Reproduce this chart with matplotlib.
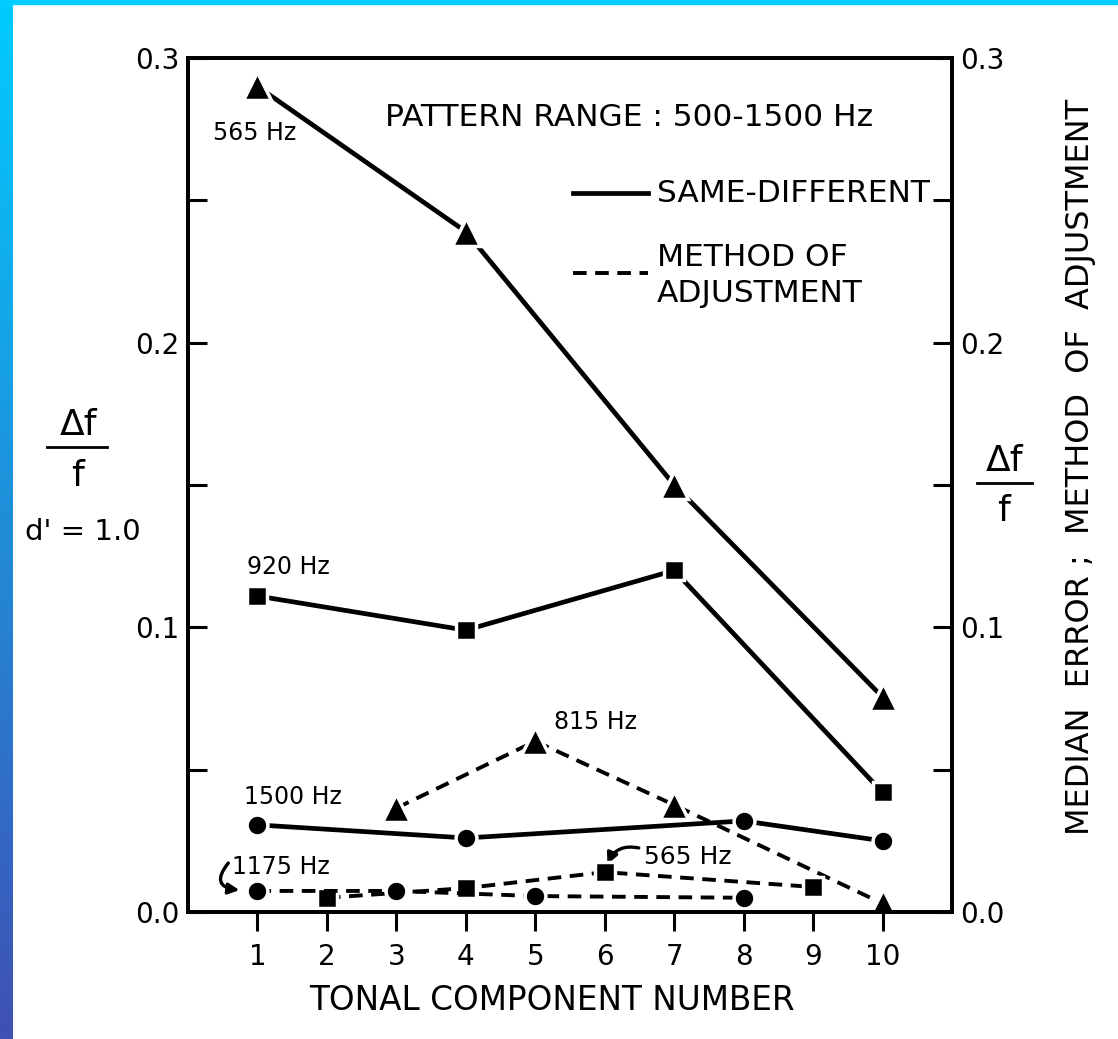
import numpy as np
import matplotlib
matplotlib.use("Agg")
from matplotlib import pyplot as plt
from matplotlib.lines import Line2D
from matplotlib.patches import FancyArrowPatch

# same-different (solid)
sd_565_x = [1, 4, 7, 10]
sd_565_y = [0.290, 0.239, 0.150, 0.0755]
sd_920_x = [1, 4, 7, 10]
sd_920_y = [0.111, 0.099, 0.120, 0.042]
sd_1500_x = [1, 4, 8, 10]
sd_1500_y = [0.0306, 0.026, 0.032, 0.025]

# method of adjustment (dashed)
ma_815_x = [3, 5, 7, 10]
ma_815_y = [0.0365, 0.060, 0.0376, 0.003]
ma_565_x = [2, 4, 6, 9]
ma_565_y = [0.005, 0.0084, 0.014, 0.0088]
ma_1175_x = [1, 3, 5, 8]
ma_1175_y = [0.0074, 0.0074, 0.0056, 0.005]

x_ticks = [1, 2, 3, 4, 5, 6, 7, 8, 9, 10]
y_ticks = [0.0, 0.05, 0.1, 0.15, 0.2, 0.25, 0.3]
y_labels = ['0.0', '', '0.1', '', '0.2', '', '0.3']

W, H = 1118, 1039
fig = plt.figure(figsize=(W / 100, H / 100), dpi=100)
plt.rcParams['font.family'] = 'DejaVu Sans'

def fx(px):
    return px / W

def fy(py):
    return 1 - py / H

# blue border strip on the left and top
grad = np.linspace(0, 1, 256).reshape(-1, 1)
cmap = matplotlib.colors.LinearSegmentedColormap.from_list('b', ['#00ccff', '#4050b4'])
bax = fig.add_axes([0, 0, 13 / W, 1])
bax.imshow(grad, aspect='auto', cmap=cmap)
bax.axis('off')
fig.patches.append(matplotlib.patches.Rectangle((0, 1 - 4 / H), 1, 4 / H, transform=fig.transFigure, color='#00ccff'))

ax = fig.add_axes([fx(188), fy(912), fx(952) - fx(188), fy(58) - fy(912)])
ax.set_xlim(0, 11)
ax.set_ylim(0, 0.3)

solid = dict(color='black', lw=3.4, linestyle='-', markeredgecolor='white', markeredgewidth=2.5)
dashed = dict(color='black', lw=2.8, linestyle=(0, (3.5, 2.2)), markeredgecolor='white', markeredgewidth=2.5)

ax.plot(sd_565_x, sd_565_y, marker='^', ms=20, **solid)
ax.plot(sd_920_x, sd_920_y, marker='s', ms=14, **solid)
ax.plot(sd_1500_x, sd_1500_y, marker='o', ms=15, **solid)
ax.plot(ma_815_x, ma_815_y, marker='^', ms=20, **dashed)
ax.plot(ma_565_x, ma_565_y, marker='s', ms=14, **dashed)
ax.plot(ma_1175_x, ma_1175_y, marker='o', ms=15, **dashed)

for s in ax.spines.values():
    s.set_linewidth(2.8)

ax.set_xticks(x_ticks)
ax.set_xticklabels([str(v) for v in x_ticks], fontsize=20)
ax.tick_params(axis='x', direction='out', length=14, width=2.2, pad=8)
ax.set_yticks(y_ticks)
ax.set_yticklabels(y_labels, fontsize=20)
ax.tick_params(axis='y', direction='in', length=14, width=2.2, pad=6)

ax2 = ax.twinx()
ax2.set_ylim(0, 0.3)
ax2.set_yticks(y_ticks)
ax2.set_yticklabels(y_labels, fontsize=20)
ax2.tick_params(axis='y', direction='in', length=14, width=2.2, pad=6)
for s in ax2.spines.values():
    s.set_linewidth(2.8)

# point labels
lab = dict(fontsize=17, ha='left', va='center')
ax.text(0.353, 0.2736, '565 Hz', **lab)
ax.text(0.856, 0.1212, '920 Hz', **lab)
ax.text(0.813, 0.0404, '1500 Hz', **lab)
ax.text(5.267, 0.0667, '815 Hz', **lab)
ax.text(0.64, 0.0158, '1175 Hz', **lab)
ax.text(6.56, 0.0193, '565 Hz', fontsize=18, ha='left', va='center')

# curved pointers
arr = dict(arrowstyle='-|>', lw=2.4, color='black', mutation_scale=16, shrinkA=0, shrinkB=0)
ax.add_patch(FancyArrowPatch((0.58, 0.0172), (0.74, 0.0077), connectionstyle='arc3,rad=0.9', **arr))
ax.add_patch(FancyArrowPatch((6.49, 0.0225), (6.04, 0.0168), connectionstyle='arc3,rad=0.4', **arr))

# header and legend
fig.text(fx(385), fy(118), 'PATTERN RANGE : 500-1500 Hz', fontsize=22.5, ha='left', va='center')
fig.add_artist(Line2D([fx(573), fx(648)], [fy(193), fy(193)], color='black', lw=3.4))
fig.text(fx(657), fy(193), 'SAME-DIFFERENT', fontsize=22.5, ha='left', va='center')
fig.add_artist(Line2D([fx(573), fx(648)], [fy(273), fy(273)], color='black', lw=2.8, linestyle=(0, (3.5, 2.2))))
fig.text(fx(657), fy(258), 'METHOD OF', fontsize=22.5, ha='left', va='center')
fig.text(fx(657), fy(293), 'ADJUSTMENT', fontsize=22.5, ha='left', va='center')

# axis labels
fig.text(fx(552), fy(1000), 'TONAL COMPONENT NUMBER', fontsize=23.5, ha='center', va='center')
fig.text(fx(78), fy(425), 'Δf', fontsize=26, ha='center', va='center')
fig.add_artist(Line2D([fx(47), fx(107)], [fy(447), fy(447)], color='black', lw=2))
fig.text(fx(78), fy(476), 'f', fontsize=26, ha='center', va='center')
fig.text(fx(83), fy(532), "d' = 1.0", fontsize=21, ha='center', va='center')
fig.text(fx(1004), fy(461), 'Δf', fontsize=26, ha='center', va='center')
fig.add_artist(Line2D([fx(977), fx(1032)], [fy(483), fy(483)], color='black', lw=2))
fig.text(fx(1004), fy(511), 'f', fontsize=26, ha='center', va='center')
fig.text(fx(1080), fy(467), 'MEDIAN  ERROR ;  METHOD  OF  ADJUSTMENT', fontsize=23, rotation=90,
         ha='center', va='center')

fig.savefig('out.png', dpi=100, facecolor='white')
